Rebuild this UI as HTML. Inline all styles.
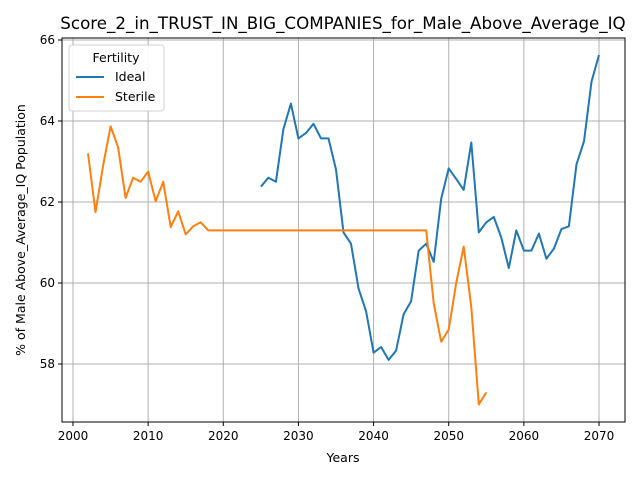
<!DOCTYPE html>
<html><head><meta charset="utf-8"><style>
body{margin:0;background:#fff;font-family:"Liberation Sans","DejaVu Sans",sans-serif}
svg text{font-family:"DejaVu Sans","Liberation Sans",sans-serif}
</style></head><body>
<svg id="chart" width="640" height="480" xmlns="http://www.w3.org/2000/svg">
<rect width="640" height="480" fill="#fff"/>
<text x="343" y="29" text-anchor="middle" font-size="16.7" fill="#000">Score_2_in_TRUST_IN_BIG_COMPANIES_for_Male_Above_Average_IQ</text>
<g id="grid"></g><g id="series"></g>
<rect x="62" y="38" width="563" height="384" fill="none" stroke="#000" stroke-width="1"/>
<g id="ticks"></g>
<text x="343" y="462" text-anchor="middle" font-size="12.5">Years</text>
<text x="0" y="0" transform="translate(25,230) rotate(-90)" text-anchor="middle" font-size="12.5">% of Male Above_Average_IQ Population</text>
<g>
<rect x="69" y="45" width="95" height="66" rx="3" fill="#fff" stroke="#ccc" opacity="0.9"/>
<text x="116" y="62" text-anchor="middle" font-size="12.5">Fertility</text>
<line x1="76" y1="77" x2="104" y2="77" stroke="#1f77b4" stroke-width="2"/>
<text x="115" y="81" font-size="12.5">Ideal</text>
<line x1="76" y1="97" x2="104" y2="97" stroke="#ff7f0e" stroke-width="2"/>
<text x="115" y="101" font-size="12.5">Sterile</text>
</g>
</svg>
<script>
const xTicks=[2000,2010,2020,2030,2040,2050,2060,2070];
const yTicks=[58,60,62,64,66];
const sterileYears=[2002,2003,2004,2005,2006,2007,2008,2009,2010,2011,2012,2013,2014,2015,2016,2017,2018,2019,2020,2021,2022,2023,2024,2025,2026,2027,2028,2029,2030,2031,2032,2033,2034,2035,2036,2037,2038,2039,2040,2041,2042,2043,2044,2045,2046,2047,2048,2049,2050,2051,2052,2053,2054,2055];
const sterileValues=[63.2,61.75,62.9,63.87,63.35,62.1,62.6,62.5,62.75,62.02,62.5,61.38,61.77,61.2,61.4,61.5,61.3,61.3,61.3,61.3,61.3,61.3,61.3,61.3,61.3,61.3,61.3,61.3,61.3,61.3,61.3,61.3,61.3,61.3,61.3,61.3,61.3,61.3,61.3,61.3,61.3,61.3,61.3,61.3,61.3,61.3,59.5,58.55,58.85,60.0,60.9,59.4,57.0,57.3];
const idealYears=[2025,2026,2027,2028,2029,2030,2031,2032,2033,2034,2035,2036,2037,2038,2039,2040,2041,2042,2043,2044,2045,2046,2047,2048,2049,2050,2051,2052,2053,2054,2055,2056,2057,2058,2059,2060,2061,2062,2063,2064,2065,2066,2067,2068,2069,2070];
const idealValues=[62.38,62.6,62.5,63.8,64.43,63.57,63.7,63.93,63.57,63.57,62.8,61.25,60.97,59.87,59.3,58.28,58.42,58.1,58.33,59.23,59.55,60.8,60.97,60.52,62.08,62.83,62.57,62.3,63.47,61.25,61.5,61.63,61.12,60.37,61.3,60.8,60.8,61.22,60.6,60.85,61.33,61.4,62.93,63.5,64.97,65.63];
const NS="http://www.w3.org/2000/svg";
function xs(v){return 73+(v-2000)*(599-73)/70;}
function ys(v){return 364-(v-58)*40.5;}
const grid=document.getElementById('grid'),ticks=document.getElementById('ticks'),ser=document.getElementById('series');
function mk(tag,a,p){const e=document.createElementNS(NS,tag);for(const k in a)e.setAttribute(k,a[k]);p.appendChild(e);return e;}
xTicks.forEach(t=>{const x=xs(t);
 const g=mk('line',{x1:x,x2:x,y1:38,y2:422,stroke:'#b0b0b0','stroke-width':1},grid);
 
 
 mk('line',{x1:x,x2:x,y1:422,y2:426,stroke:'#000'},ticks);
 const tx=mk('text',{x:x,y:440,'text-anchor':'middle','font-size':12},ticks);tx.textContent=t;
 
 });
yTicks.forEach(t=>{const y=ys(t);
 const g=mk('line',{x1:62,x2:625,y1:y,y2:y,stroke:'#b0b0b0','stroke-width':1},grid);
 
 
 mk('line',{x1:58,x2:62,y1:y,y2:y,stroke:'#000'},ticks);
 const tx=mk('text',{x:55,y:y+4,'text-anchor':'end','font-size':12},ticks);tx.textContent=t;
 
 });
function line(xsArr,vals,color,name){const pts=xsArr.map((x,i)=>xs(x).toFixed(1)+','+ys(vals[i]).toFixed(1)).join(' ');
 const p=mk('polyline',{points:pts,fill:'none',stroke:color,'stroke-width':2,'stroke-linejoin':'round'},ser);
 
 }
line(idealYears,idealValues,'#1f77b4','ideal-line');
line(sterileYears,sterileValues,'#ff7f0e','sterile-line');
</script>
</body></html>
